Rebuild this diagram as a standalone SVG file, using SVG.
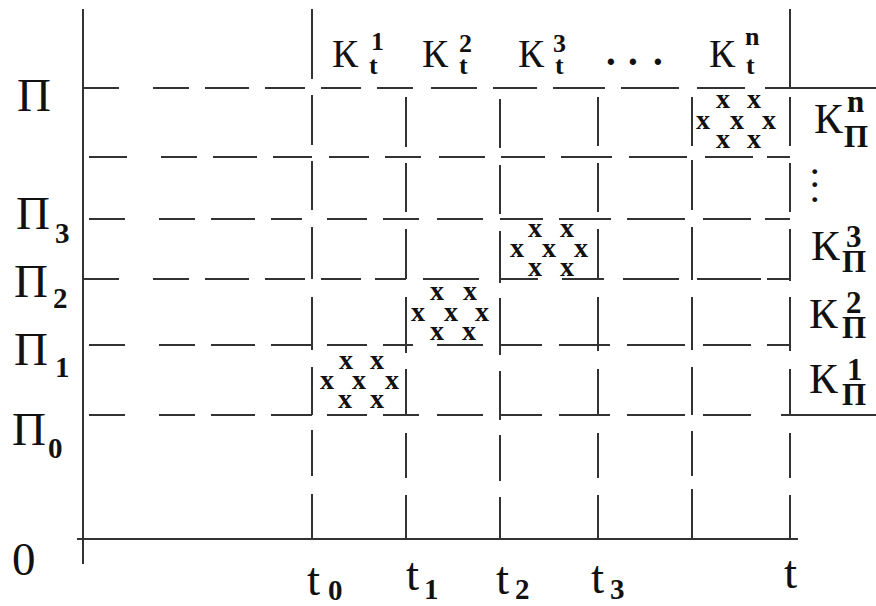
<svg xmlns="http://www.w3.org/2000/svg" width="876" height="606" viewBox="0 0 876 606">
<style>
.ln{stroke:#333;stroke-width:2;fill:none}
.xm{font-weight:bold;font-size:28px;text-anchor:middle}
.big{font-size:47px}
.sub{font-size:29px;font-weight:bold}
.kt{font-size:39px}
.ks{font-size:26px;font-weight:bold}
.kr{font-size:43px}
.krs{font-size:31px;font-weight:bold}
.b{font-weight:bold}
</style>
<rect width="876" height="606" fill="#fff"/>
<g id="axes">
<path class="ln" d="M83 9V564 M77 539H798"/>
</g>
<g id="grid">
<path class="ln" d="M83 88H119 M153 88H189 M205 88H249 M265 88H305 M321 88H361 M377 88H413 M431 88H477 M493 88H537 M553 88H605 M621 88H679 M697 88H745 M765 88H876"/>
<path class="ln" d="M89 157H127 M161 157H197 M213 157H257 M273 157H312 M329 157H369 M385 157H421 M439 157H485 M501 157H545 M561 157H612 M629 157H687 M705 157H753 M767 157H790"/>
<path class="ln" d="M89 219H125 M159 219H195 M211 219H255 M271 219H302 M327 219H367 M383 219H419 M437 219H483 M500 219H543 M559 219H611 M627 219H685 M703 219H751 M765 219H790"/>
<path class="ln" d="M83 279H119 M153 279H189 M205 279H249 M265 279H305 M321 279H361 M375 279H406 M423 279H479 M500 279H538 M562 279H604 M623 279H679 M697 279H761 M767 279H790"/>
<path class="ln" d="M89 345H125 M159 345H195 M211 345H255 M271 345H312 M327 345H367 M383 345H413 M437 345H483 M500 345H542 M559 345H610 M627 345H685 M703 345H751 M767 345H790"/>
<path class="ln" d="M89 415H125 M159 415H195 M211 415H255 M271 415H312 M327 415H367 M383 415H419 M437 415H483 M500 415H542 M559 415H610 M627 415H685 M703 415H751 M781 415H876"/>
<path class="ln" d="M312 9V79 M312 95V145 M312 161V210 M312 227V279 M312 297V350 M312 367V415 M312 430V476 M312 494V539"/>
<path class="ln" d="M406 97V147 M406 163V212 M406 229V279 M406 297V353 M406 369V415 M406 433V478 M406 495V539"/>
<path class="ln" d="M500 99V148 M500 165V214 M500 231V283 M500 298V355 M500 371V420 M500 435V481 M500 497V539"/>
<path class="ln" d="M598 97V146 M598 163V212 M598 229V280 M598 297V351 M598 369V415 M598 433V478 M598 495V539"/>
<path class="ln" d="M692 97V146 M692 160V210 M692 227V280 M692 297V350 M692 367V415 M692 431V476 M692 489V539"/>
<path class="ln" d="M790 9V88 M790 97V146 M790 163V212 M790 229V281 M790 297V351 M790 369V415 M790 433V478 M790 495V539"/>
</g>
<g font-family="Liberation Serif, serif" fill="#111">
<g id="marks1">
<text class="xm" x="346 377 327 359 392 345 377" y="369 369 389 389 389 408 408">xxxxxxx</text>
</g>
<g id="marks2">
<text class="xm" x="437 470 418 451 482 437 469" y="300 300 321 321 321 340 340">xxxxxxx</text>
</g>
<g id="marks3">
<text class="xm" x="535 567 517 549 581 535 567" y="237 237 257 257 257 276 276">xxxxxxx</text>
</g>
<g id="marksn">
<text class="xm" x="723 754 703 737 769 723 754" y="108 108 129 129 129 148 148">xxxxxxx</text>
</g>
<g id="ylabels">
<text class="big" x="17" y="111">П</text>
<text class="big" x="16" y="229">П</text><text class="sub" x="55" y="243">3</text>
<text class="big" x="14" y="297">П</text><text class="sub" x="53" y="308">2</text>
<text class="big" x="14" y="365">П</text><text class="sub" x="55" y="377">1</text>
<text class="big" x="12" y="445">П</text><text class="sub" x="48" y="458">0</text>
<text class="big" x="12" y="575">0</text>
</g>
<g id="xlabels">
<text class="big" x="307" y="595">t</text><text class="sub" x="328" y="600">0</text>
<text class="big" x="406" y="590">t</text><text class="sub" x="424" y="599">1</text>
<text class="big" x="496" y="594">t</text><text class="sub" x="515" y="599">2</text>
<text class="big" x="591" y="593">t</text><text class="sub" x="610" y="599">3</text>
<text class="big" x="784" y="588">t</text>
</g>
<g id="toplabels">
<text class="kt" x="332" y="67">К</text><text class="ks" x="371 369" y="50 74">1t</text>
<text class="kt" x="422" y="67">К</text><text class="ks" x="459 459" y="52 74">2t</text>
<text class="kt" x="518" y="67">К</text><text class="ks" x="553 555" y="52 74">3t</text>
<text class="kt b" x="606 628 653" y="65">...</text>
<text class="kt" x="709" y="67">К</text><text class="ks" x="745 746" y="45 74">nt</text>
</g>
<g id="rightlabels">
<text class="kr" x="814" y="133">К</text><text class="krs" x="847 844" y="112 147">nП</text>
<text class="b" font-size="30" x="811 811 811" y="174 187 202">...</text>
<text class="kr" x="811" y="260">К</text><text class="krs" x="846 842" y="247 272">3П</text>
<text class="kr" x="809" y="328">К</text><text class="krs" x="846 842" y="313 338">2П</text>
<text class="kr" x="809" y="393">К</text><text class="krs" x="847 842" y="380 405">1П</text>
</g>
</g>
</svg>
